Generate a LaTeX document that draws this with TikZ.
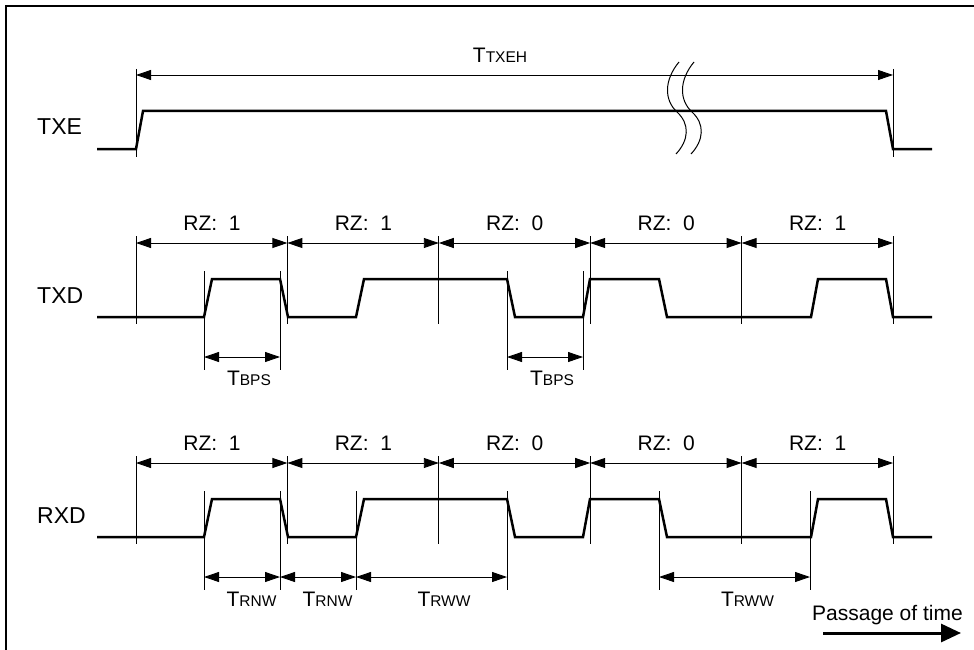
\documentclass[tikz,border=0pt]{standalone}
\usepackage{fontspec}
\setmainfont{Liberation Sans}
\usetikzlibrary{arrows.meta}

% smaller letters after the T of a timing name
\newcommand{\tsub}[1]{{\fontsize{15.5}{18}\selectfont #1}}

\begin{document}
\begin{tikzpicture}[x=1pt, y=-1pt,
  sig/.style={line width=2.5pt, line join=miter},
  tick/.style={line width=0.9pt},
  dim/.style={line width=0.9pt, {Triangle[length=15pt, width=10pt]}-{Triangle[length=15pt, width=10pt]}},
  lbl/.style={font=\fontsize{21}{25}\selectfont, anchor=base, inner sep=0pt},
  row/.style={font=\fontsize{23}{27}\selectfont, anchor=base west, inner sep=0pt}]

\useasboundingbox (0,0) rectangle (974,650);

% Frame -- only the top and left edges are in the picture
\draw[line width=1.8pt] (6,650) -- (6,6) -- (974,6);

% ---------------- TXE ----------------
\node[row] (txe) at (37,135) {TXE};
\draw[tick] (136,69) -- (136,157);
\draw[tick] (893,69) -- (893,157);
\coordinate (txeL) at (136,75);
\coordinate (txeR) at (893,75);
\draw[dim] (txeL) -- (txeR);
\node[lbl] (ttxeh) at (500,63) {T\tsub{TXEH}};
\draw[sig] (97,149) -- (136,149) -- (143,111) -- (886,111) -- (893,149) -- (932,149);

% break marks
\draw[line width=1pt] (679,62) .. controls (664,80) and (664,100) .. (677,112)
  .. controls (690,124) and (689,140) .. (676,154);
\draw[line width=1pt] (694,62) .. controls (679,80) and (679,100) .. (692,112)
  .. controls (705,124) and (704,140) .. (691,154);

% ---------------- TXD and RXD ----------------
% both rows share bit cells, RZ labels and waveform; RXD sits 220 lower
\node[row] (txd) at (37,303) {TXD};
\node[row] (rxd) at (37,523) {RXD};

\foreach \y [count=\r] in {0,220} {
  % bit cell boundaries, 151.4 apart
  \foreach \i in {0,...,5}
    \draw[tick] ({136+151.4*\i},236+\y) -- ({136+151.4*\i},324+\y);
  \foreach \b [count=\i from 0] in {1,1,0,0,1} {
    \coordinate (c\r a\i) at ({136+151.4*\i},243+\y);
    \coordinate (c\r b\i) at ({136+151.4*(\i+1)},243+\y);
    \draw[dim] (c\r a\i) -- (c\r b\i);
    \node[lbl] (rz\r\i) at ({212+151.4*\i},230+\y) {RZ:\ \ \b};
  }
  % waveform
  \draw[sig] (97,317+\y) -- (204,317+\y) -- (212,279+\y) -- (280,279+\y)
    -- (288,317+\y) -- (356,317+\y) -- (364,279+\y) -- (507,279+\y)
    -- (515,317+\y) -- (583,317+\y) -- (590,279+\y) -- (659,279+\y)
    -- (667,317+\y) -- (811,317+\y) -- (818,279+\y) -- (886,279+\y)
    -- (893,317+\y) -- (932,317+\y);
}

% TBPS under TXD
\foreach \x in {204,280,507,583}
  \draw[tick] (\x,271) -- (\x,370);
\coordinate (bp1) at (204,357);
\coordinate (bp2) at (280,357);
\coordinate (bp3) at (507,357);
\coordinate (bp4) at (583,357);
\draw[dim] (bp1) -- (bp2);
\draw[dim] (bp3) -- (bp4);
\node[lbl] (tbps1) at (249,385) {T\tsub{BPS}};
\node[lbl] (tbps2) at (552,385) {T\tsub{BPS}};

% TRNW / TRWW under RXD
\foreach \x in {204,280,356,507,659,810}
  \draw[tick] (\x,491) -- (\x,590);
\coordinate (rw1) at (204,577);
\coordinate (rw2) at (280,577);
\coordinate (rw3) at (356,577);
\coordinate (rw4) at (507,577);
\coordinate (rw5) at (659,577);
\coordinate (rw6) at (810,577);
\draw[dim] (rw1) -- (rw2);
\draw[dim] (rw2) -- (rw3);
\draw[dim] (rw3) -- (rw4);
\draw[dim] (rw5) -- (rw6);
\node[lbl] (trnw1) at (251.5,606) {T\tsub{RNW}};
\node[lbl] (trnw2) at (327.5,606) {T\tsub{RNW}};
\node[lbl] (trww1) at (444,606) {T\tsub{RWW}};
\node[lbl] (trww2) at (747.5,606) {T\tsub{RWW}};

% Passage of time
\node[lbl, anchor=base west] (pot) at (812,620) {Passage of time};
\coordinate (potL) at (823,633);
\coordinate (potR) at (961,633);
\draw[line width=3pt, -{Triangle[length=20pt, width=18pt]}] (potL) -- (potR);

\end{tikzpicture}
\end{document}
